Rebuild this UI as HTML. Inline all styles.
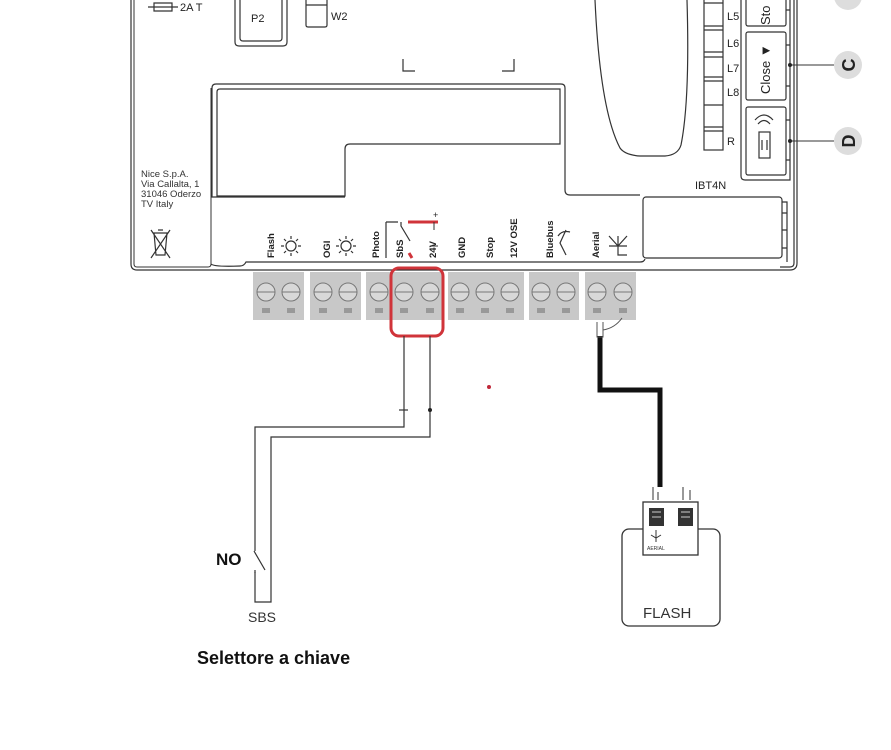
<!DOCTYPE html>
<html><head><meta charset="utf-8"><style>
html,body{margin:0;padding:0;background:#fff;}
svg{display:block;font-family:"Liberation Sans",Arial,sans-serif;}
</style></head><body>
<svg width="891" height="750" viewBox="0 0 891 750" xmlns="http://www.w3.org/2000/svg">
<g fill="none" stroke="#333" stroke-width="1.2">
 <path d="M131 0 V264 Q131 270 137 270 H790 Q797 270 797 263 V0"/>
 <path d="M134 0 V264 Q134 267 137 267 H208 Q211 267 211 264 V88" stroke-width="1"/>
 <path d="M211 264 Q214 267 240 266 Q244 266 246 262 H640 Q644 262 645 259"/>
 <path d="M794 0 V263 Q794 267 790 267 H780"/>
 <path d="M148 7 H178 M154 3 H172 V11 H154 Z"/>
 <path d="M235 0 V42 Q235 46 239 46 H283 Q287 46 287 42 V0"/>
 <path d="M240 0 V38 Q240 41 243 41 H279 Q282 41 282 38 V0"/>
 <path d="M306 0 V25 Q306 27 308 27 H325 Q327 27 327 25 V0 M306 5 H327"/>
 <path d="M403 59 V71 H415 M514 59 V71 H502"/>
 <path d="M212 88 Q212 84 216 84 H561 Q565 84 565 88 V148 M565 148 V190 Q565 195 570 195 H640"/>
 <path d="M217 196 V92 Q217 89 220 89 H560 V144 H350 Q345 144 345 149 V196 Z"/>
 <path d="M212 88 V197 H345"/>
 <path d="M595 0 Q600 110 620 148 Q625 155 640 156 H665 Q678 155 681 145 Q690 100 687 0"/>
 <rect x="704" y="-2" width="19" height="152"/>
 <path d="M704 3 H723 M704 26 H723 M704 30 H723 M704 52 H723 M704 57 H723 M704 77 H723 M704 81 H723 M704 105 H723 M704 127 H723 M704 131 H723"/>
 <path d="M741 0 V176 Q741 180 745 180 H790 V0"/>
 <rect x="746" y="-4" width="40" height="30" rx="2"/>
 <rect x="746" y="32" width="40" height="68" rx="2"/>
 <rect x="746" y="107" width="40" height="68" rx="2"/>
 <path d="M786 10 H790 M786 45 H790 M786 86 H790 M786 120 H790 M786 160 H790"/>
 <rect x="759" y="132" width="11" height="26"/>
 <path d="M762 140 V150 M767 140 V150"/>
 <path d="M758 124 Q764 117 770 124 M755 120 Q764 110 773 120"/>
 <rect x="643" y="197" width="139" height="61" rx="3"/>
 <path d="M782 202 H787 V262 M782 213 H787 M782 230 H787 M782 248 H787"/>
 <path d="M151 230 L170 258 M170 230 L151 258 M154 233 H167 L165 255 H156 Z M158 230 H163"/>
</g>
<g>
 <line x1="790" y1="65" x2="834" y2="65" stroke="#333"/>
 <line x1="790" y1="141" x2="834" y2="141" stroke="#333"/>
 <circle cx="790" cy="65" r="2" fill="#222"/><circle cx="790" cy="141" r="2" fill="#222"/>
 <circle cx="848" cy="-4" r="14" fill="#ddd"/>
 <circle cx="848" cy="65" r="14" fill="#ddd"/>
 <circle cx="848" cy="141" r="14" fill="#ddd"/>
 <text x="0" y="0" transform="translate(855 65) rotate(-90)" text-anchor="middle" font-size="18" font-weight="bold" fill="#222">C</text>
 <text x="0" y="0" transform="translate(855 141) rotate(-90)" text-anchor="middle" font-size="18" font-weight="bold" fill="#222">D</text>
</g>
<g font-size="11" fill="#222">
 <text x="180" y="11">2A T</text>
 <text x="251" y="22">P2</text>
 <text x="331" y="20">W2</text>
 <text x="727" y="20">L5</text>
 <text x="727" y="47">L6</text>
 <text x="727" y="72">L7</text>
 <text x="727" y="96">L8</text>
 <text x="727" y="145">R</text>
 <text x="695" y="189">IBT4N</text>
 <text transform="translate(770 25) rotate(-90)" font-size="13">Sto</text>
 <text transform="translate(770 94) rotate(-90)" font-size="13">Close ▼</text>
</g>
<g font-size="9.5" fill="#333">
 <text x="141" y="177">Nice S.p.A.</text>
 <text x="141" y="187">Via Callalta, 1</text>
 <text x="141" y="197">31046 Oderzo</text>
 <text x="141" y="207">TV Italy</text>
</g>
<g font-size="9.5" font-weight="bold" fill="#222">
 <text transform="translate(274 258) rotate(-90)">Flash</text>
 <text transform="translate(330 258) rotate(-90)">OGI</text>
 <text transform="translate(379 258) rotate(-90)">Photo</text>
 <text transform="translate(403 258) rotate(-90)">SbS</text>
 <text transform="translate(436 258) rotate(-90)">24V</text>
 <text transform="translate(465 258) rotate(-90)">GND</text>
 <text transform="translate(493 258) rotate(-90)">Stop</text>
 <text transform="translate(517 258) rotate(-90)">12V OSE</text>
 <text transform="translate(553 258) rotate(-90)">Bluebus</text>
 <text transform="translate(599 258) rotate(-90)">Aerial</text>
</g>
<g fill="none" stroke="#333" stroke-width="1.2">
 <circle cx="291" cy="246" r="5"/><path d="M291 236 V239 M291 253 V256 M281 246 H284 M298 246 H301 M284 239 L286 241 M298 239 L296 241 M284 253 L286 251 M298 253 L296 251"/>
 <circle cx="346" cy="246" r="5"/><path d="M346 236 V239 M346 253 V256 M336 246 H339 M353 246 H356 M339 239 L341 241 M353 239 L351 241 M339 253 L341 251 M353 253 L351 251"/>
 <path d="M386 222 V258 M386 222 H398"/>
 <path d="M401 222 V226 L410 241"/>
 <path d="M566 230 L560 243 L566 255 M558 236 Q562 230 570 232"/>
 <path d="M609 236 L618 246 L627 236 M618 236 V255 H627 M609 246 H627"/>
</g>
<path d="M408 222 H438" stroke="#d0343a" stroke-width="3"/>
<path d="M409 253 L412 258" stroke="#d0343a" stroke-width="3"/>
<path d="M434 222 V230 M430 246 H438" stroke="#333" stroke-width="1"/>
<text x="433" y="218" font-size="9" fill="#222">+</text>
<g fill="#c8c8c8">
 <rect x="253" y="272" width="51" height="48"/>
 <rect x="310" y="272" width="51" height="48"/>
 <rect x="366" y="272" width="77" height="48"/>
 <rect x="448" y="272" width="76" height="48"/>
 <rect x="529" y="272" width="50" height="48"/>
 <rect x="585" y="272" width="51" height="48"/>
</g>
<g fill="#d8d8d8" stroke="#777" stroke-width="1">
 <circle cx="266" cy="292" r="9"/><circle cx="291" cy="292" r="9"/>
 <circle cx="323" cy="292" r="9"/><circle cx="348" cy="292" r="9"/>
 <circle cx="379" cy="292" r="9"/><circle cx="404" cy="292" r="9"/><circle cx="430" cy="292" r="9"/>
 <circle cx="460" cy="292" r="9"/><circle cx="485" cy="292" r="9"/><circle cx="510" cy="292" r="9"/>
 <circle cx="541" cy="292" r="9"/><circle cx="566" cy="292" r="9"/>
 <circle cx="597" cy="292" r="9"/><circle cx="623" cy="292" r="9"/>
</g>
<g stroke="#777" stroke-width="1">
 <path d="M257 292 H275 M282 292 H300 M314 292 H332 M339 292 H357 M370 292 H388 M395 292 H413 M421 292 H439 M451 292 H469 M476 292 H494 M501 292 H519 M532 292 H550 M557 292 H575 M588 292 H606 M614 292 H632"/>
</g>
<g fill="#999">
 <rect x="262" y="308" width="8" height="5"/><rect x="287" y="308" width="8" height="5"/>
 <rect x="319" y="308" width="8" height="5"/><rect x="344" y="308" width="8" height="5"/>
 <rect x="375" y="308" width="8" height="5"/><rect x="400" y="308" width="8" height="5"/><rect x="426" y="308" width="8" height="5"/>
 <rect x="456" y="308" width="8" height="5"/><rect x="481" y="308" width="8" height="5"/><rect x="506" y="308" width="8" height="5"/>
 <rect x="537" y="308" width="8" height="5"/><rect x="562" y="308" width="8" height="5"/>
 <rect x="593" y="308" width="8" height="5"/><rect x="619" y="308" width="8" height="5"/>
</g>
<rect x="391" y="268" width="52" height="68" rx="8" fill="none" stroke="#d0343a" stroke-width="3"/>
<g fill="none" stroke="#333" stroke-width="1.2">
 <path d="M404 336 V427 H255 V602 H271 V437 H430 V336"/>
 <path d="M399 410 H408"/>
</g>
<rect x="252" y="548" width="6" height="24" fill="#fff"/>
<path d="M255 548 V551 M255 570 V573 M254 551 L265 570" stroke="#333" stroke-width="1.2" fill="none"/>
<circle cx="430" cy="410" r="2" fill="#222"/>
<circle cx="489" cy="387" r="2" fill="#c0283a"/>
<text x="216" y="565" font-size="17" font-weight="bold" fill="#111">NO</text>
<text x="248" y="622" font-size="14" fill="#333">SBS</text>
<text x="197" y="664" font-size="18" font-weight="bold" fill="#111">Selettore a chiave</text>
<path d="M600 336 V390 H660 V487" fill="none" stroke="#111" stroke-width="5"/>
<path d="M597 322 V337 H603 V322 M603 330 Q615 328 622 318" fill="none" stroke="#555" stroke-width="1"/>
<rect x="622" y="529" width="98" height="97" rx="7" fill="none" stroke="#333" stroke-width="1.3"/>
<rect x="643" y="502" width="55" height="53" fill="#fff" stroke="#333" stroke-width="1.3"/>
<rect x="649" y="508" width="15" height="18" fill="#333"/>
<rect x="678" y="508" width="15" height="18" fill="#333"/>
<path d="M652 512 H661 M652 517 H661 M681 512 H690 M681 517 H690" stroke="#ccc"/>
<path d="M653 487 V500 M658 492 V500 M683 487 V500 M690 490 V500" stroke="#333"/>
<path d="M656 530 V542 M651 535 L656 538 L661 535" stroke="#333" fill="none"/>
<text x="647" y="550" font-size="5" fill="#333">AERIAL</text>
<text x="643" y="618" font-size="15" fill="#333">FLASH</text>
</svg>
</body></html>
